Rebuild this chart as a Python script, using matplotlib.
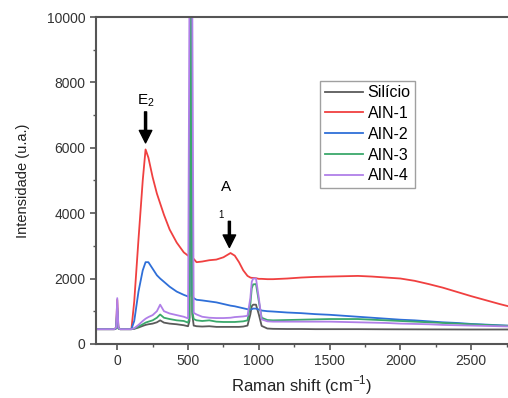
import matplotlib.pyplot as plt
from matplotlib.ticker import MultipleLocator

plt.rcParams['font.family'] = ['Liberation Sans', 'DejaVu Sans']

# Raman shift grid (cm-1)
shift = [-150, -20, -8, 0, 8, 20, 100, 120, 150, 180, 200, 220, 250, 280, 303,
         330, 370, 420, 470, 500, 510, 520, 530, 540, 560, 600, 650, 700, 750,
         800, 830, 860, 890, 920, 940, 950, 960, 980, 1000, 1020, 1060, 1100,
         1200, 1300, 1400, 1500, 1600, 1700, 1800, 1900, 2000, 2100, 2200, 2300,
         2400, 2500, 2600, 2700, 2800]

silicio = [450, 450, 470, 800, 470, 450, 450, 460, 500, 550, 580, 600, 620, 660, 720,
           650, 620, 600, 570, 540, 700, 10500, 900, 560, 540, 530, 540, 520, 520,
           520, 520, 520, 530, 560, 900, 1150, 1200, 1200, 900, 550, 470, 460,
           455, 455, 450, 450, 450, 450, 448, 446, 445, 444, 443, 442,
           441, 440, 440, 440, 440]

aln1 = [450, 450, 500, 1350, 500, 450, 450, 1300, 3200, 5000, 5950, 5700, 5100, 4600, 4300,
        3950, 3500, 3100, 2800, 2700, 2700, 10500, 2650, 2600, 2500, 2520, 2560, 2580, 2650,
        2780, 2700, 2500, 2250, 2080, 2030, 2020, 2020, 2010, 1990, 1990, 1980, 1980,
        2000, 2030, 2050, 2060, 2070, 2080, 2060, 2030, 2000, 1930, 1830, 1720,
        1590, 1460, 1340, 1220, 1110]

aln2 = [450, 450, 480, 1000, 480, 450, 450, 700, 1600, 2250, 2500, 2500, 2300, 2100, 2000,
        1900, 1750, 1600, 1500, 1450, 1450, 10500, 1500, 1400, 1350, 1330, 1300, 1270, 1220,
        1170, 1150, 1120, 1090, 1060, 1050, 1060, 1080, 1080, 1050, 1020, 1000, 990,
        960, 940, 910, 890, 860, 830, 800, 770, 740, 720, 690, 660,
        640, 610, 590, 570, 550]

aln3 = [450, 450, 480, 1100, 480, 450, 450, 470, 530, 600, 650, 680, 720, 800, 900,
        800, 760, 720, 700, 650, 800, 10500, 1000, 760, 720, 700, 720, 680, 670,
        670, 670, 680, 690, 720, 1200, 1700, 1820, 1830, 1300, 800, 730, 720,
        730, 740, 750, 760, 760, 760, 740, 720, 700, 680, 660, 640,
        620, 600, 580, 560, 550]

aln4 = [450, 450, 500, 1400, 500, 450, 450, 480, 580, 700, 770, 820, 880, 1000, 1200,
        1000, 930, 880, 830, 780, 10500, 10500, 10500, 950, 900, 830, 800, 790, 790,
        800, 820, 830, 840, 860, 1400, 1900, 2000, 2000, 1400, 750, 690, 680,
        680, 680, 680, 680, 670, 660, 650, 640, 620, 610, 600, 580,
        570, 560, 550, 540, 530]

series = [
    ("Silício", silicio, "#5a5a5a"),
    ("AIN-1", aln1, "#f04040"),
    ("AIN-2", aln2, "#2f6fd8"),
    ("AIN-3", aln3, "#3aa86b"),
    ("AIN-4", aln4, "#b07fe8"),
]

fig = plt.figure(figsize=(5.08, 3.98), dpi=100)
ax = fig.add_axes([0.189, 0.136, 0.811, 0.821])

for label, y, c in series:
    ax.plot(shift, y, color=c, lw=1.3, label=label)

ax.set_xlim(-150, 2760)
ax.set_ylim(0, 10000)
ax.xaxis.set_major_locator(MultipleLocator(500))
ax.xaxis.set_minor_locator(MultipleLocator(250))
ax.yaxis.set_major_locator(MultipleLocator(2000))
ax.yaxis.set_minor_locator(MultipleLocator(1000))

for s in ax.spines.values():
    s.set_color('#555555')
    s.set_linewidth(1.5)
ax.spines['right'].set_visible(False)
ax.tick_params(which='both', direction='out', color='#555555', labelsize=10,
               labelcolor='#333333')
ax.tick_params(which='major', length=4, width=1.2)
ax.tick_params(which='minor', length=2.5, width=1.0)

ax.set_xlabel("Raman shift (cm$^{\\mathregular{-1}}$)", fontsize=12, color='#222222')
ax.set_ylabel("Intensidade (u.a.)", fontsize=10.5, color='#222222', labelpad=12)

# peak annotations
ax.text(200, 7450, "E$_\\mathregular{2}$", fontsize=11, ha='center', va='center')
ax.annotate('', xy=(200, 6150), xytext=(200, 7100),
            arrowprops=dict(facecolor='black', edgecolor='black', width=1.5,
                            headwidth=9, headlength=9, shrink=0))
ax.text(768, 4800, "A", fontsize=11, ha='center', va='center')
ax.text(734, 3950, "1", fontsize=7, ha='center', va='center')
ax.annotate('', xy=(792, 2950), xytext=(792, 3750),
            arrowprops=dict(facecolor='black', edgecolor='black', width=1.5,
                            headwidth=9, headlength=9, shrink=0))

leg = ax.legend(loc='upper left', bbox_to_anchor=(0.543, 0.806), fontsize=11.5,
                frameon=True, fancybox=False, labelspacing=0.36, handlelength=2.4,
                handletextpad=0.3, borderpad=0.3, borderaxespad=0)
leg.get_frame().set_edgecolor('#888888')
leg.get_frame().set_linewidth(1.0)

fig.savefig("out.png", dpi=100)
